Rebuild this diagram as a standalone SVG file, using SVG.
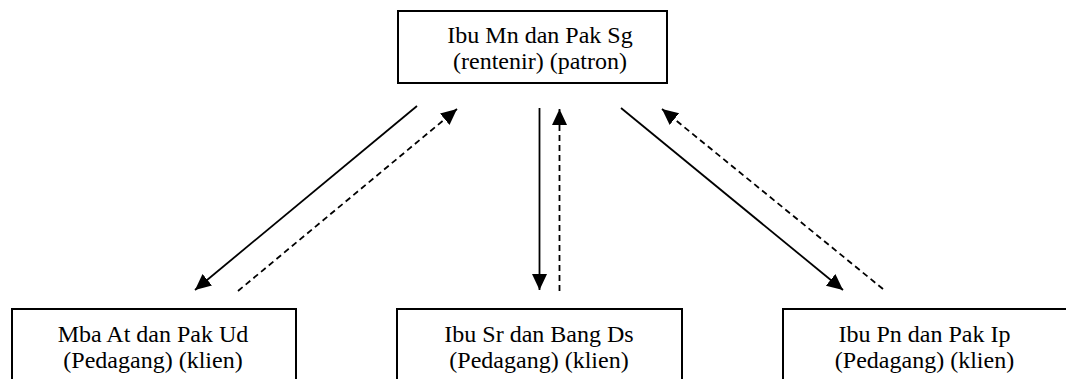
<svg xmlns="http://www.w3.org/2000/svg" width="1066" height="379" viewBox="0 0 1066 379">
<style>
.box{fill:#fff;stroke:#000;stroke-width:2}
.t{font-family:"Liberation Serif","Times New Roman",serif;font-size:24px;fill:#000;text-anchor:middle}
.solid{stroke:#000;stroke-width:1.8;fill:none;marker-end:url(#ah)}
.dash{stroke:#000;stroke-width:1.8;fill:none;stroke-dasharray:6 4;marker-end:url(#ah)}
</style>
<defs>
<marker id="ah" markerUnits="userSpaceOnUse" markerWidth="17" markerHeight="16" refX="16" refY="7.5" orient="auto">
<path d="M0,0 L16,7.5 L0,15 z" fill="#000"/>
</marker>
</defs>
<rect width="1066" height="379" fill="#fff"/>
<g id="connectors">
<line class="solid" x1="417" y1="106" x2="195" y2="290"/>
<line class="dash" x1="238" y1="291" x2="457" y2="109"/>
<line class="solid" x1="539.5" y1="108" x2="539.5" y2="290"/>
<line class="dash" x1="559.5" y1="291" x2="559.5" y2="109"/>
<line class="solid" x1="621" y1="108" x2="843" y2="290"/>
<line class="dash" x1="883" y1="289" x2="662" y2="109"/>
</g>
<g id="patron">
<rect class="box" x="398" y="11" width="269" height="72"/>
<text class="t" x="540" y="43">Ibu Mn dan Pak Sg</text>
<text class="t" x="540" y="69">(rentenir) (patron)</text>
</g>
<g id="klien1">
<rect class="box" x="12" y="309" width="284" height="80"/>
<text class="t" x="153" y="342">Mba At dan Pak Ud</text>
<text class="t" x="153" y="368">(Pedagang) (klien)</text>
</g>
<g id="klien2">
<rect class="box" x="397" y="309" width="285" height="80"/>
<text class="t" x="539" y="342">Ibu Sr dan Bang Ds</text>
<text class="t" x="539" y="368">(Pedagang) (klien)</text>
</g>
<g id="klien3">
<rect class="box" x="783" y="309" width="286" height="80"/>
<text class="t" x="924.5" y="342">Ibu Pn dan Pak Ip</text>
<text class="t" x="924.5" y="368">(Pedagang) (klien)</text>
</g>
</svg>
